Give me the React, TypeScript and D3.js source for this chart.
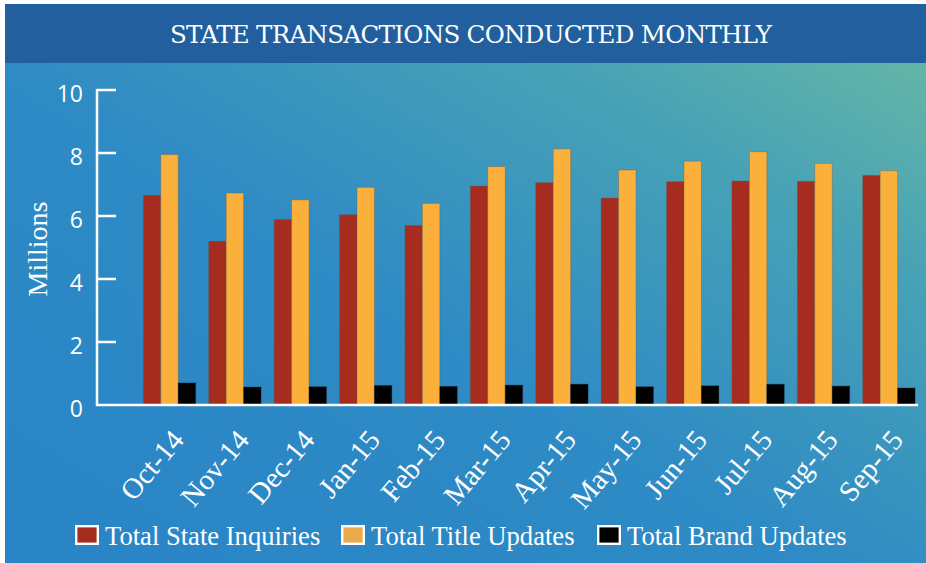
import React from "react";
import * as d3 from "d3";

const title = "STATE TRANSACTIONS CONDUCTED MONTHLY";
const yAxisTitle = "Millions";
const months = ["Oct-14", "Nov-14", "Dec-14", "Jan-15", "Feb-15", "Mar-15", "Apr-15", "May-15", "Jun-15", "Jul-15", "Aug-15", "Sep-15"];
const seriesNames = ["Total State Inquiries", "Total Title Updates", "Total Brand Updates"];
const stateInquiries = [6.66, 5.2, 5.89, 6.04, 5.7, 6.95, 7.06, 6.57, 7.09, 7.11, 7.1, 7.29];
const titleUpdates = [7.95, 6.73, 6.51, 6.91, 6.4, 7.57, 8.13, 7.46, 7.74, 8.04, 7.67, 7.44];
const brandUpdates = [0.7, 0.57, 0.58, 0.62, 0.59, 0.63, 0.66, 0.58, 0.61, 0.66, 0.6, 0.54];
const yTicks = [0, 2, 4, 6, 8, 10];
const seriesColors = ["#A52C1E", "#FBB03B", "#000000"];
const legendColors = ["#A52C1E", "#EBAA4A", "#000000"];

const W = 926;
const H = 563;

export default function App() {
  const seriesValues = [stateInquiries, titleUpdates, brandUpdates];
  const y = d3.scaleLinear().domain([0, 10]).range([405, 90]);
  const x = d3.scaleBand<string>().domain(months).range([136.8, 921.6]).paddingInner(0.2).paddingOuter(0.1);
  const xs = d3.scaleBand<string>().domain(seriesNames).range([0, x.bandwidth()]).padding(0);

  const legendX = [75, 341, 597];
  const serif = "'Liberation Serif', 'Times New Roman', serif";

  return (
    <svg width={W} height={H} style={{ position: "absolute", left: 0, top: 0, display: "block" }}>
      <defs>
        <linearGradient id="bg" x1="0" y1="1" x2="1" y2="0">
          <stop offset="0%" stopColor="#2884C6" />
          <stop offset="45%" stopColor="#2F8BC4" />
          <stop offset="75%" stopColor="#47A2B6" />
          <stop offset="100%" stopColor="#6CBBA3" />
        </linearGradient>
      </defs>
      <rect x={0} y={0} width={W} height={H} fill="#ffffff" />
      <rect x={5} y={4} width={W - 5} height={H - 4} fill="url(#bg)" />
      <rect x={5} y={4} width={W - 5} height={59} fill="#215F9E" />
      <text
        x={471}
        y={43}
        textAnchor="middle"
        fill="#ffffff"
        fontFamily="'DejaVu Serif', serif"
        fontSize={24.5}
        textLength={602}
        lengthAdjust="spacing"
      >
        {title}
      </text>

      {/* bars */}
      {months.map((m, i) => (
        <g key={m} transform={`translate(${x(m)},0)`}>
          {seriesNames.map((s, j) => {
            const v = seriesValues[j][i];
            return (
              <rect
                key={s}
                x={xs(s)}
                y={y(v)}
                width={xs.bandwidth()}
                height={y(0) - y(v)}
                fill={seriesColors[j]}
                stroke={j === 2 ? "#1a2a3a" : "#6b5a4a"}
                strokeOpacity={0.35}
                strokeWidth={1}
              />
            );
          })}
        </g>
      ))}

      {/* y axis */}
      <line x1={97} x2={97} y1={y(10) - 1} y2={y(0) + 1} stroke="#fff" strokeWidth={2.5} />
      {yTicks.map((t) => (
        <g key={t}>
          {t > 0 && <line x1={97} x2={116} y1={y(t)} y2={y(t)} stroke="#fff" strokeWidth={2.5} />}
          <text
            x={83}
            y={y(t) + 3.5}
            dy="0.36em"
            textAnchor="end"
            fill="#fff"
            fontFamily="'Open Sans', sans-serif"
            fontSize={23}
          >
            {t}
          </text>
        </g>
      ))}
      <line x1={96} x2={918} y1={y(0)} y2={y(0)} stroke="#fff" strokeWidth={2.5} />

      <text
        transform={`translate(47,249) rotate(-90)`}
        textAnchor="middle"
        fill="#fff"
        fontFamily={serif}
        fontSize={28}
      >
        {yAxisTitle}
      </text>

      {/* x labels */}
      {months.map((m) => {
        const cx = (x(m) as number) + x.bandwidth() / 2 + 8;
        return (
          <text
            key={m}
            transform={`translate(${cx},434) rotate(-50)`}
            textAnchor="end"
            dy="0.35em"
            fill="#fff"
            fontFamily={serif}
            fontSize={29}
          >
            {m}
          </text>
        );
      })}

      {/* legend */}
      {seriesNames.map((s, j) => (
        <g key={s} transform={`translate(${legendX[j]},0)`}>
          <rect x={1.2} y={526.2} width={21.6} height={17.6} fill={legendColors[j]} stroke="#fff" strokeWidth={2.4} />
          <text x={30} y={545} fill="#fff" fontFamily={serif} fontSize={26.6}>
            {s}
          </text>
        </g>
      ))}
    </svg>
  );
}
